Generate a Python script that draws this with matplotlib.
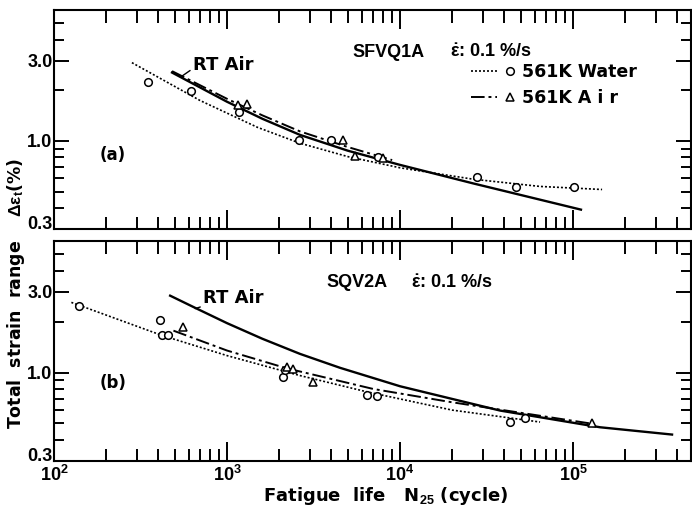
import matplotlib
matplotlib.use("Agg")
import matplotlib.pyplot as plt
from matplotlib.lines import Line2D
from matplotlib.legend_handler import HandlerTuple
from matplotlib.ticker import FixedLocator, NullFormatter
from matplotlib.transforms import ScaledTranslation

plt.rcParams['font.family'] = ['Liberation Sans', 'DejaVu Sans']
plt.rcParams['font.weight'] = 'bold'
plt.rcParams['mathtext.fontset'] = 'custom'
plt.rcParams['mathtext.rm'] = 'Liberation Sans:bold'
plt.rcParams['mathtext.bf'] = 'Liberation Sans:bold'
plt.rcParams['mathtext.it'] = 'Liberation Sans:bold'

# ---- panel (a) SFVQ1A ----
water_a_N = [350, 620, 1180, 2600, 4000, 7500, 27900, 46900, 101000]
water_a_v = [2.25, 1.99, 1.49, 1.01, 1.02, 0.80, 0.61, 0.53, 0.53]
air_a_N = [1160, 1300, 4700, 5500, 8000]
air_a_v = [1.63, 1.66, 1.02, 0.81, 0.79]

water_a_fit_N = [282, 698, 1500, 2640, 5000, 10000, 26400, 64400, 147000]
water_a_fit_v = [2.92, 1.74, 1.205, 0.97, 0.807, 0.693, 0.593, 0.537, 0.515]
air_a_fit_N = [481, 1000, 1600, 2640, 5000, 9000]
air_a_fit_v = [2.6, 1.78, 1.42, 1.14, 0.92, 0.77]
rt_a_fit_N = [481, 1000, 1600, 2640, 5000, 10000, 26400, 111000]
rt_a_fit_v = [2.55, 1.71, 1.355, 1.087, 0.875, 0.721, 0.56, 0.391]

# ---- panel (b) SQV2A ----
water_b_N = [140, 411, 423, 458, 2100, 2150, 6410, 7400, 43200, 52800]
water_b_v = [2.46, 2.05, 1.66, 1.66, 0.94, 1.03, 0.735, 0.725, 0.51, 0.536]
air_b_N = [559, 2210, 2400, 3150, 128000]
air_b_v = [1.87, 1.08, 1.05, 0.88, 0.50]

water_b_fit_N = [126, 420, 1000, 2640, 6410, 20000, 64400]
water_b_fit_v = [2.6, 1.66, 1.26, 0.96, 0.77, 0.60, 0.51]
air_b_fit_N = [490, 1000, 2210, 7000, 19500, 126000]
air_b_fit_v = [1.77, 1.35, 1.06, 0.80, 0.67, 0.50]
rt_b_fit_N = [469, 668, 1000, 1600, 2640, 4500, 10000, 37900, 143000, 373000]
rt_b_fit_v = [2.85, 2.39, 1.96, 1.585, 1.29, 1.067, 0.83, 0.596, 0.475, 0.43]

x_major = [1e2, 1e3, 1e4, 1e5]
x_labels = [r'$\mathbf{10^{2}}$', r'$\mathbf{10^{3}}$', r'$\mathbf{10^{4}}$', r'$\mathbf{10^{5}}$']
x_minor = [m * 10 ** e for e in range(2, 6) for m in range(2, 10)]
y_major = [0.3, 1.0, 3.0]
y_labels = ['0.3', '1.0', '3.0']
y_minor = [0.4, 0.5, 0.6, 0.7, 0.8, 0.9, 2.0, 4.0, 5.0, 6.0]

dotted = (0, (1.2, 1.2))
dashdot = (0, (7, 2, 1.5, 2))
wide = 'DejaVu Sans'

fig = plt.figure(figsize=(6.92, 5.09), dpi=100)
ax_a = fig.add_axes([54/692, (509-229)/509, (691-54)/692, 219/509])
ax_b = fig.add_axes([54/692, (509-461)/509, (691-54)/692, 220/509])


def style_axes(ax, show_x):
    ax.set_xscale('log')
    ax.set_yscale('log')
    ax.set_xlim(100, 4.8e5)
    ax.set_ylim(0.3, 6.0)
    ax.xaxis.set_major_locator(FixedLocator(x_major))
    ax.xaxis.set_minor_locator(FixedLocator(x_minor))
    ax.yaxis.set_major_locator(FixedLocator(y_major))
    ax.yaxis.set_minor_locator(FixedLocator(y_minor))
    ax.yaxis.set_ticklabels(y_labels)
    ax.yaxis.set_minor_formatter(NullFormatter())
    ax.xaxis.set_minor_formatter(NullFormatter())
    if show_x:
        ax.xaxis.set_ticklabels(x_labels)
    else:
        ax.xaxis.set_ticklabels([])
    ax.tick_params(which='both', direction='in', top=True, right=True, width=1.4,
                   labelsize=13, pad=1)
    ax.tick_params(axis='x', which='major', length=14, pad=3)
    ax.tick_params(axis='x', which='minor', length=9)
    ax.tick_params(axis='y', which='major', length=11)
    ax.tick_params(axis='y', which='minor', length=7)
    for sp in ax.spines.values():
        sp.set_linewidth(1.5)
    # the bottom "0.3" label sits a little above its tick, as in the original
    lab = ax.yaxis.get_major_ticks()[0].label1
    lab.set_transform(lab.get_transform() + ScaledTranslation(0, 5/72, fig.dpi_scale_trans))


def draw_panel(ax, wN, wv, aN, av, wfN, wfv, afN, afv, rN, rv):
    ax.plot(wfN, wfv, color='k', ls=dotted, lw=1.2)
    ax.plot(afN, afv, color='k', ls=dashdot, lw=1.4)
    ax.plot(rN, rv, color='k', ls='-', lw=1.7)
    ax.plot(wN, wv, ls='none', marker='o', ms=5.5, mfc='white', mec='k', mew=1.1)
    ax.plot(aN, av, ls='none', marker='^', ms=6, mfc='white', mec='k', mew=1.1)


style_axes(ax_a, False)
style_axes(ax_b, True)
draw_panel(ax_a, water_a_N, water_a_v, air_a_N, air_a_v,
           water_a_fit_N, water_a_fit_v, air_a_fit_N, air_a_fit_v, rt_a_fit_N, rt_a_fit_v)
draw_panel(ax_b, water_b_N, water_b_v, air_b_N, air_b_v,
           water_b_fit_N, water_b_fit_v, air_b_fit_N, air_b_fit_v, rt_b_fit_N, rt_b_fit_v)

# panel texts
ax_a.text(0.469, 0.808, 'SFVQ1A', transform=ax_a.transAxes, fontsize=13, va='center')
ax_a.text(0.621, 0.808, r'$\dot{\varepsilon}$: 0.1 %/s', transform=ax_a.transAxes,
          fontsize=13, va='center')
ax_a.text(0.072, 0.338, '(a)', transform=ax_a.transAxes, fontsize=12, va='center',
          family=wide)
ax_a.annotate('RT Air', xy=(540, 2.4), xytext=(0.218, 0.749),
              textcoords='axes fraction', fontsize=13, va='center', family=wide,
              arrowprops=dict(arrowstyle='-', color='k', lw=1.0, shrinkA=0, shrinkB=0,
                              relpos=(0, 0.3)))

ax_b.text(0.428, 0.81, 'SQV2A', transform=ax_b.transAxes, fontsize=13, va='center')
ax_b.text(0.561, 0.81, r'$\dot{\varepsilon}$: 0.1 %/s', transform=ax_b.transAxes,
          fontsize=13, va='center')
ax_b.text(0.072, 0.355, '(b)', transform=ax_b.transAxes, fontsize=12, va='center',
          family=wide)
ax_b.annotate('RT Air', xy=(654, 2.39), xytext=(0.234, 0.741),
              textcoords='axes fraction', fontsize=13, va='center', family=wide,
              arrowprops=dict(arrowstyle='-', color='k', lw=1.0, shrinkA=0, shrinkB=0,
                              relpos=(0.05, 0.1)))

# legend
h_water = (Line2D([], [], color='k', ls=dotted, lw=1.2),
           Line2D([], [], ls='none', marker='o', ms=5.5, mfc='white', mec='k', mew=1.1))
h_air = (Line2D([], [], color='k', ls=dashdot, lw=1.4),
         Line2D([], [], ls='none', marker='^', ms=6, mfc='white', mec='k', mew=1.1))
ax_a.legend([h_water, h_air], ['561K Water', '561K A i r'],
            handler_map={tuple: HandlerTuple(ndivide=None, pad=0.0)},
            loc='upper left', bbox_to_anchor=(0.655, 0.757), frameon=False,
            prop={'family': wide, 'weight': 'bold', 'size': 12.5},
            handlelength=3.0, handletextpad=-0.1, borderpad=0,
            borderaxespad=0, labelspacing=0.45, numpoints=1)

fig.text(0.023, 0.424, r'Total  strain  range    $\Delta\varepsilon_{t}$(%)', rotation=90,
         fontsize=12.5, ha='center', va='center', family=wide)
fig.text(0.557, 0.025, r'Fatigue  life   N$_{25}$ (cycle)', fontsize=13,
         ha='center', va='center', family=wide)

fig.savefig('out.png', dpi=100)
